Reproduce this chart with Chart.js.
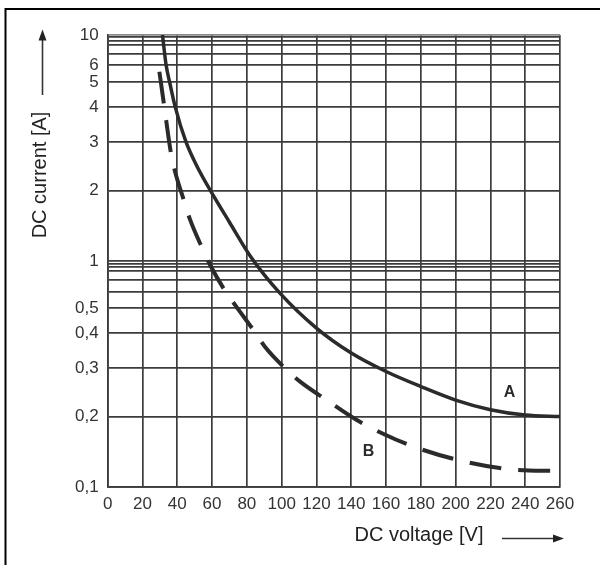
<!DOCTYPE html>
<html>
<head>
<meta charset="utf-8">
<title>DC breaking capacity</title>
<script src="https://cdn.jsdelivr.net/npm/chart.js@4.4.1/dist/chart.umd.min.js"></script>
<style>
    html, body { margin: 0; padding: 0; background: #fff; }
    #wrap { width: 600px; height: 565px; }
</style>
</head>
<body>
<div id="wrap"><canvas id="dc-chart"></canvas></div>
<script>
// curve A (solid)
const voltsA = [31.5, 33.6, 35.6, 38.8, 45, 51.3, 59, 70, 82, 99, 120, 140, 160, 180, 200, 220, 240, 260];
const ampsA  = [10, 6, 5, 4, 3, 2.5, 2, 1.55, 1.07, 0.59, 0.42, 0.343, 0.293, 0.262, 0.234, 0.214, 0.203, 0.2];

// curve B (dashed)
const voltsB = [29.7, 32.4, 36.4, 38.7, 43.9, 47.3, 54.6, 58.8, 68, 73.8, 84.7, 90.5, 103.3, 110.6, 125.6, 143.2, 158.9, 175.8, 203, 231.4, 260];
const ampsB  = [5.62, 4.08, 2.76, 2.39, 1.85, 1.59, 1.17, 0.93, 0.595, 0.511, 0.403, 0.36, 0.295, 0.272, 0.2345, 0.195, 0.175, 0.1575, 0.1376, 0.1255, 0.123];

// axes
const voltTicks = [0, 20, 40, 60, 80, 100, 120, 140, 160, 180, 200, 220, 240, 260];
const ampGrid = [0.1, 0.2, 0.3, 0.4, 0.5, 0.6, 0.7, 0.8, 0.9, 0.95, 1, 2, 3, 4, 5, 6, 7, 8, 9, 9.5, 10];
const ampLabelled = [0.1, 0.2, 0.3, 0.4, 0.5, 1, 2, 3, 4, 5, 6, 10];

const curveTags = [
    { text: 'A', volts: 231, amps: 0.249 },
    { text: 'B', volts: 150, amps: 0.15 }
];

const FONT = "'Liberation Sans', Arial, sans-serif";
const INK = '#2b2b2b';
const GRID = '#3c3c3c';

// the printed log paper does not space 1..10 like a true log10 decade
const DECADE_MANT = [1, 2, 3, 4, 5, 6, 7, 8, 9, 9.5, 10];
const DECADE_POS  = [0, 0.313, 0.527, 0.682, 0.792, 0.866, 0.917, 0.955, 0.975, 0.99, 1];

class PaperLogScale extends Chart.LogarithmicScale {
    _decimal(value) {
        const e = Math.floor(Math.log10(value) + 1e-9);
        const m = value / Math.pow(10, e);
        let i = 0;
        while (i < DECADE_MANT.length - 2 && m > DECADE_MANT[i + 1]) i++;
        const t = (m - DECADE_MANT[i]) / (DECADE_MANT[i + 1] - DECADE_MANT[i]);
        const f = DECADE_POS[i] + t * (DECADE_POS[i + 1] - DECADE_POS[i]);
        const lo = Math.log10(this.min), hi = Math.log10(this.max);
        return (e + f - lo) / (hi - lo);
    }
    getPixelForValue(value) {
        if (value === null || value === undefined || isNaN(value) || value <= 0) return NaN;
        return this.getPixelForDecimal(this._decimal(value));
    }
    getValueForPixel(pixel) {
        const lo = Math.log10(this.min), hi = Math.log10(this.max);
        const d = lo + this.getDecimalForPixel(pixel) * (hi - lo);
        const e = Math.floor(d), f = d - e;
        let i = 0;
        while (i < DECADE_POS.length - 2 && f > DECADE_POS[i + 1]) i++;
        const t = (f - DECADE_POS[i]) / (DECADE_POS[i + 1] - DECADE_POS[i]);
        return (DECADE_MANT[i] + t * (DECADE_MANT[i + 1] - DECADE_MANT[i])) * Math.pow(10, e);
    }
}
PaperLogScale.id = 'paperLog';
PaperLogScale.defaults = Chart.LogarithmicScale.defaults;
Chart.register(PaperLogScale);

function arrow(ctx, x1, y1, x2, y2) {
    const a = Math.atan2(y2 - y1, x2 - x1), len = 11, half = 4;
    ctx.beginPath();
    ctx.moveTo(x1, y1);
    ctx.lineTo(x2 - Math.cos(a) * len * 0.8, y2 - Math.sin(a) * len * 0.8);
    ctx.stroke();
    ctx.beginPath();
    ctx.moveTo(x2, y2);
    ctx.lineTo(x2 - Math.cos(a) * len - Math.sin(a) * half, y2 - Math.sin(a) * len + Math.cos(a) * half);
    ctx.lineTo(x2 - Math.cos(a) * len + Math.sin(a) * half, y2 - Math.sin(a) * len - Math.cos(a) * half);
    ctx.closePath();
    ctx.fill();
}

// frame, axis titles with arrows, curve letters
const sheetDecor = {
    id: 'sheetDecor',
    afterDraw(chart) {
        const ctx = chart.ctx;
        const { x, y } = chart.scales;
        ctx.save();

        ctx.strokeStyle = '#000';
        ctx.lineWidth = 2;
        ctx.beginPath();
        ctx.moveTo(5.5, 565);
        ctx.lineTo(5.5, 9);
        ctx.lineTo(600, 9);
        ctx.stroke();

        ctx.fillStyle = '#222';
        ctx.strokeStyle = '#333';
        ctx.lineWidth = 1.6;
        ctx.font = '20px ' + FONT;
        ctx.textBaseline = 'middle';

        ctx.textAlign = 'center';
        ctx.fillText('DC voltage [V]', 419, 535);
        arrow(ctx, 502, 538.5, 564, 538.5);

        ctx.save();
        ctx.translate(40, 175);
        ctx.rotate(-Math.PI / 2);
        ctx.fillText('DC current [A]', 0, 0);
        ctx.restore();
        arrow(ctx, 42.5, 95, 42.5, 29.5);

        ctx.fillStyle = INK;
        ctx.font = 'bold 16px ' + FONT;
        curveTags.forEach(t => ctx.fillText(t.text, x.getPixelForValue(t.volts), y.getPixelForValue(t.amps)));
        ctx.restore();
    }
};

const toPoints = (xs, ys) => xs.map((v, i) => ({ x: v, y: ys[i] }));

new Chart(document.getElementById('dc-chart'), {
    type: 'line',
    data: {
        datasets: [
            { label: 'A', data: toPoints(voltsA, ampsA), borderColor: INK, borderWidth: 3.5, cubicInterpolationMode: 'monotone', pointRadius: 0, fill: false },
            { label: 'B', data: toPoints(voltsB, ampsB), borderColor: INK, borderWidth: 4, borderDash: [32, 17], cubicInterpolationMode: 'monotone', pointRadius: 0, fill: false }
        ]
    },
    options: {
        responsive: true,
        maintainAspectRatio: false,
        animation: false,
        events: [],
        layout: { padding: { left: 7.7, top: 35, right: 40, bottom: 37.7 } },
        plugins: { legend: { display: false }, tooltip: { enabled: false } },
        scales: {
            x: {
                type: 'linear', min: 0, max: 260,
                afterBuildTicks: s => { s.ticks = voltTicks.map(v => ({ value: v })); },
                afterFit: s => { s.height = 40; },
                ticks: { autoSkip: false, maxRotation: 0, padding: 7, color: '#333', font: { family: FONT, size: 17 } },
                grid: { color: GRID, lineWidth: 1.7, drawTicks: false },
                border: { color: GRID, width: 1.7 }
            },
            y: {
                type: 'paperLog', min: 0.1, max: 10,
                afterBuildTicks: s => { s.ticks = ampGrid.map(v => ({ value: v })); },
                afterFit: s => { s.width = 100; },
                ticks: {
                    autoSkip: false, padding: 9, color: '#333', font: { family: FONT, size: 17 },
                    major: { enabled: false },
                    callback: v => ampLabelled.includes(v) ? String(v).replace('.', ',') : ''
                },
                grid: { color: c => c.tick && c.tick.value === 10 ? '#8a8a8a' : GRID, lineWidth: 1.7, drawTicks: false },
                border: { color: GRID, width: 1.7 }
            }
        }
    },
    plugins: [sheetDecor]
});
</script>
</body>
</html>
